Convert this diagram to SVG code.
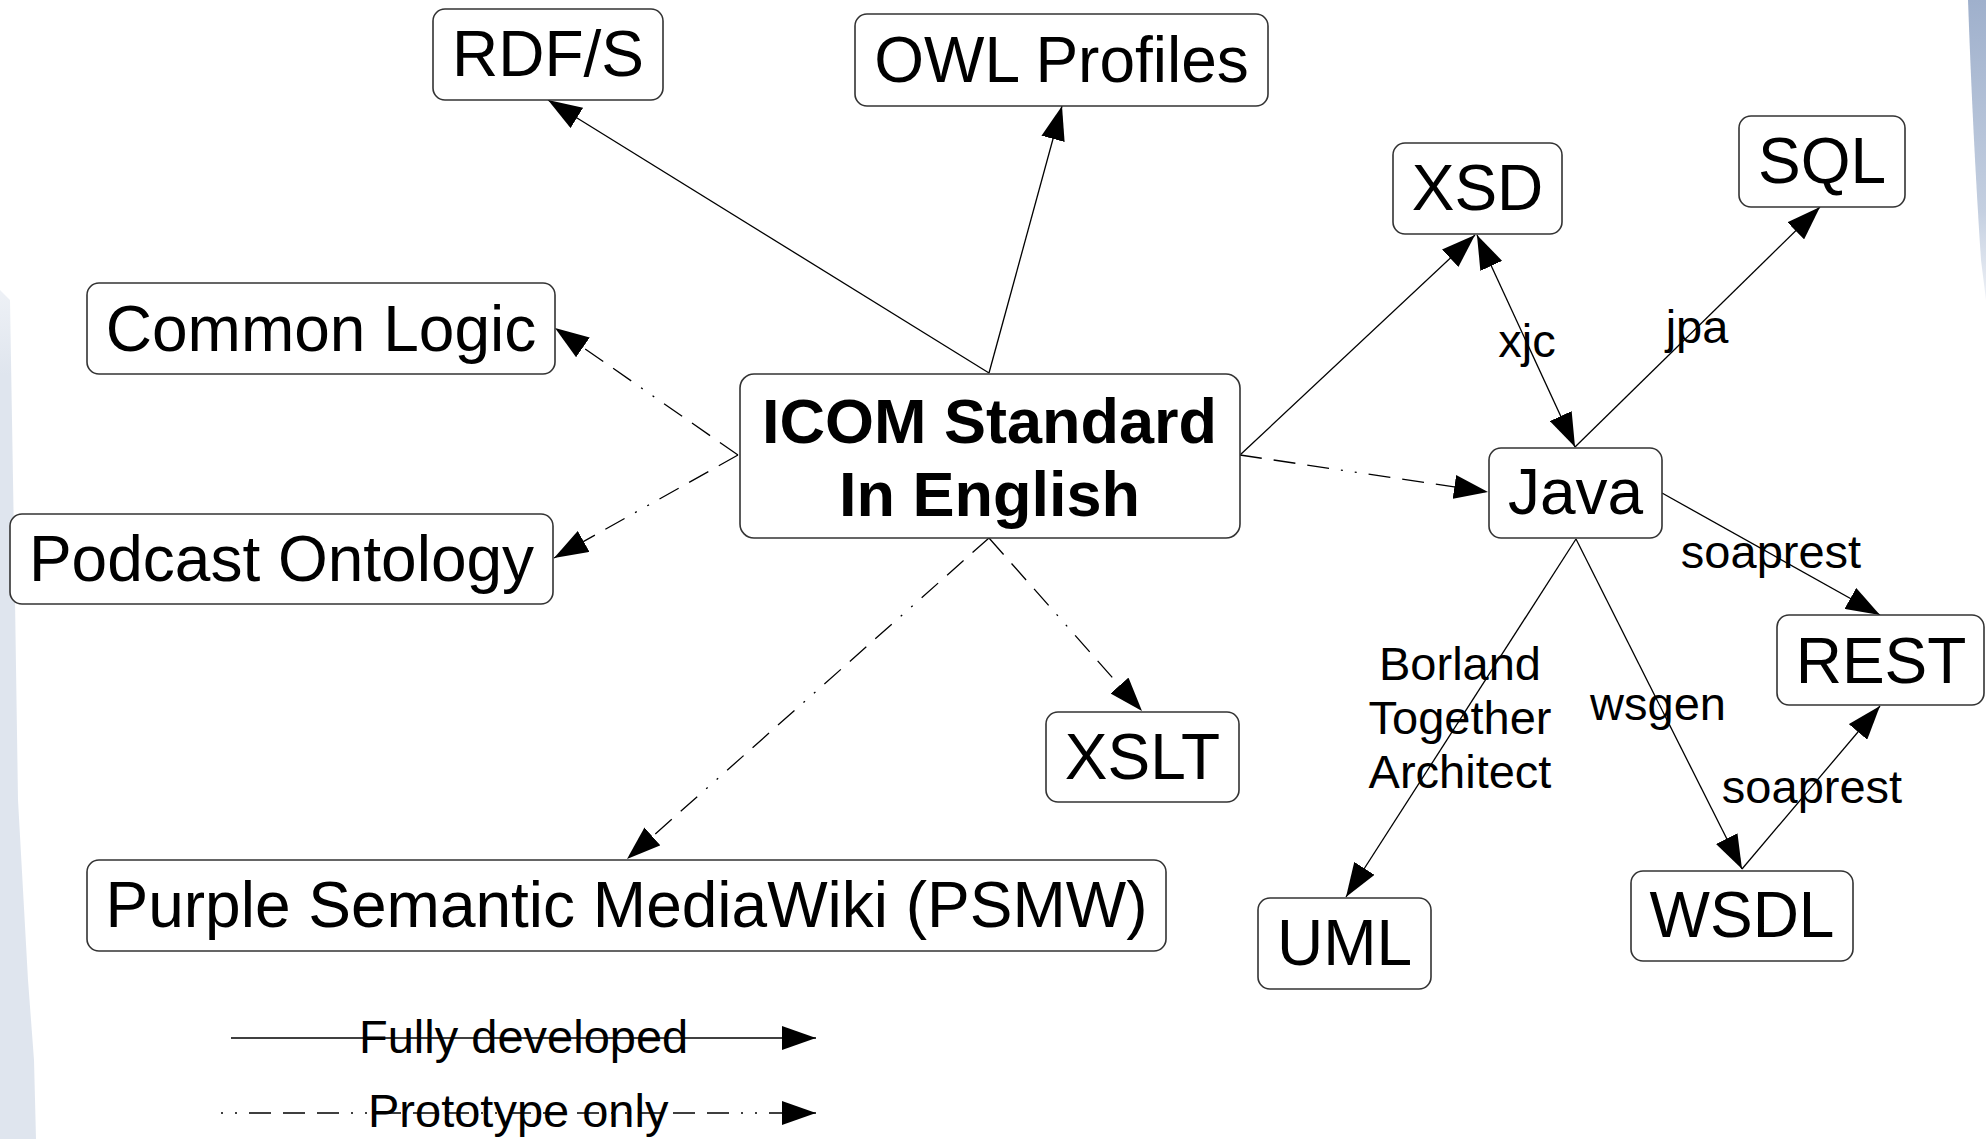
<svg xmlns="http://www.w3.org/2000/svg" width="1986" height="1139" viewBox="0 0 1986 1139">
<style>
.box{fill:#fff;stroke:#333;stroke-width:1.6}
.nt{font-family:"Liberation Sans",Arial,sans-serif;font-size:64px;fill:#000;text-anchor:middle}
.bt{font-family:"Liberation Sans",Arial,sans-serif;font-size:63px;font-weight:bold;fill:#000;text-anchor:middle}
.lt{font-family:"Liberation Sans",Arial,sans-serif;font-size:47px;fill:#000;text-anchor:middle}
.lg{font-family:"Liberation Sans",Arial,sans-serif;font-size:47px;fill:#000}
.full{fill:none;stroke:#000;stroke-width:1.3;marker-end:url(#ah)}
.proto{fill:none;stroke:#000;stroke-width:1.3;stroke-dasharray:22 12 22 12 22 12 2 12 2 12;marker-end:url(#ah)}
</style>
<defs>
<marker id="ah" markerUnits="userSpaceOnUse" markerWidth="34" markerHeight="24" viewBox="0 0 34 24" refX="34" refY="12" orient="auto-start-reverse">
<path d="M0,0 L34,12 L0,24 Z" fill="#000"/>
</marker>
<linearGradient id="rg" x1="0" y1="0" x2="0" y2="1">
<stop offset="0" stop-color="#9fb0cc"/>
<stop offset="0.7" stop-color="#c4cfe0"/>
<stop offset="1" stop-color="#eef1f6"/>
</linearGradient>
<linearGradient id="lgr" x1="0" y1="0" x2="0" y2="1">
<stop offset="0" stop-color="#eef1f6"/>
<stop offset="0.1" stop-color="#dfe5ee"/>
<stop offset="1" stop-color="#dfe5ee"/>
</linearGradient>
</defs>
<g id="background">
<path d="M0,290 L10,300 L15,600 L18,800 L28,980 L34,1060 L36,1139 L0,1139 Z" fill="url(#lgr)"/>
<path d="M1968,0 L1986,0 L1986,300 L1981,260 Q1973,140 1968,0 Z" fill="url(#rg)"/>
</g>
<g id="connectors">
<path class="full" d="M989,373 L548,100"/>
<path class="full" d="M989,373 L1062,106"/>
<path class="proto" d="M738,455 L555,328"/>
<path class="proto" d="M738,455 L554,558"/>
<path class="proto" d="M989,538 L627,859"/>
<path class="proto" d="M989,538 L1142,711"/>
<path class="full" d="M1240,455 L1475,235"/>
<path class="proto" d="M1240,455 L1488,492"/>
<path class="full" d="M1575,447 L1477,235" style="marker-start:url(#ah)"/>
<path class="full" d="M1575,447 L1820,207"/>
<path class="full" d="M1662,493 L1880,615"/>
<path class="full" d="M1576,539 L1346,897"/>
<path class="full" d="M1576,539 L1742,869"/>
<path class="full" d="M1742,869 L1880,706"/>
<text class="lt" x="1527" y="357">xjc</text>
<text class="lt" x="1697" y="343">jpa</text>
<text class="lt" x="1771" y="568">soaprest</text>
<text class="lt" x="1460" y="680">Borland</text>
<text class="lt" x="1460" y="734">Together</text>
<text class="lt" x="1460" y="788">Architect</text>
<text class="lt" x="1658" y="720">wsgen</text>
<text class="lt" x="1812" y="803">soaprest</text>
</g>
<g id="n-rdfs"><rect class="box" x="433" y="9" width="230" height="91" rx="12"/><text class="nt" x="548" y="76">RDF/S</text></g>
<g id="n-owl"><rect class="box" x="855" y="14" width="413" height="92" rx="12"/><text class="nt" x="1061.5" y="82">OWL Profiles</text></g>
<g id="n-cl"><rect class="box" x="87" y="283" width="468" height="91" rx="12"/><text class="nt" x="321" y="351">Common Logic</text></g>
<g id="n-podcast"><rect class="box" x="10" y="514" width="543" height="90" rx="12"/><text class="nt" x="281.5" y="581">Podcast Ontology</text></g>
<g id="n-icom"><rect class="box" x="740" y="374" width="500" height="164" rx="14"/><text class="bt" x="989.5" y="443">ICOM Standard</text><text class="bt" x="989.5" y="516">In English</text></g>
<g id="n-xsd"><rect class="box" x="1393" y="143" width="169" height="91" rx="12"/><text class="nt" x="1477.5" y="210">XSD</text></g>
<g id="n-sql"><rect class="box" x="1739" y="116" width="166" height="91" rx="12"/><text class="nt" x="1822" y="183">SQL</text></g>
<g id="n-java"><rect class="box" x="1489" y="448" width="173" height="90" rx="12"/><text class="nt" x="1575.5" y="514">Java</text></g>
<g id="n-rest"><rect class="box" x="1777" y="615" width="207" height="90" rx="12"/><text class="nt" x="1881" y="683">REST</text></g>
<g id="n-xslt"><rect class="box" x="1046" y="712" width="193" height="90" rx="12"/><text class="nt" x="1142.5" y="779">XSLT</text></g>
<g id="n-psmw"><rect class="box" x="87" y="860" width="1079" height="91" rx="12"/><text class="nt" x="626.5" y="927">Purple Semantic MediaWiki (PSMW)</text></g>
<g id="n-uml"><rect class="box" x="1258" y="898" width="173" height="91" rx="12"/><text class="nt" x="1344.5" y="965">UML</text></g>
<g id="n-wsdl"><rect class="box" x="1631" y="871" width="222" height="90" rx="12"/><text class="nt" x="1742" y="937">WSDL</text></g>
<g id="legend">
<path class="full" d="M231,1038 L816,1038"/>
<text class="lg" x="359" y="1053">Fully developed</text>
<path class="proto" d="M221,1113 L816,1113" style="stroke-dasharray:2 12 2 12 22 12 22 12 22 12"/>
<text class="lg" x="368" y="1127">Prototype only</text>
</g>
</svg>
